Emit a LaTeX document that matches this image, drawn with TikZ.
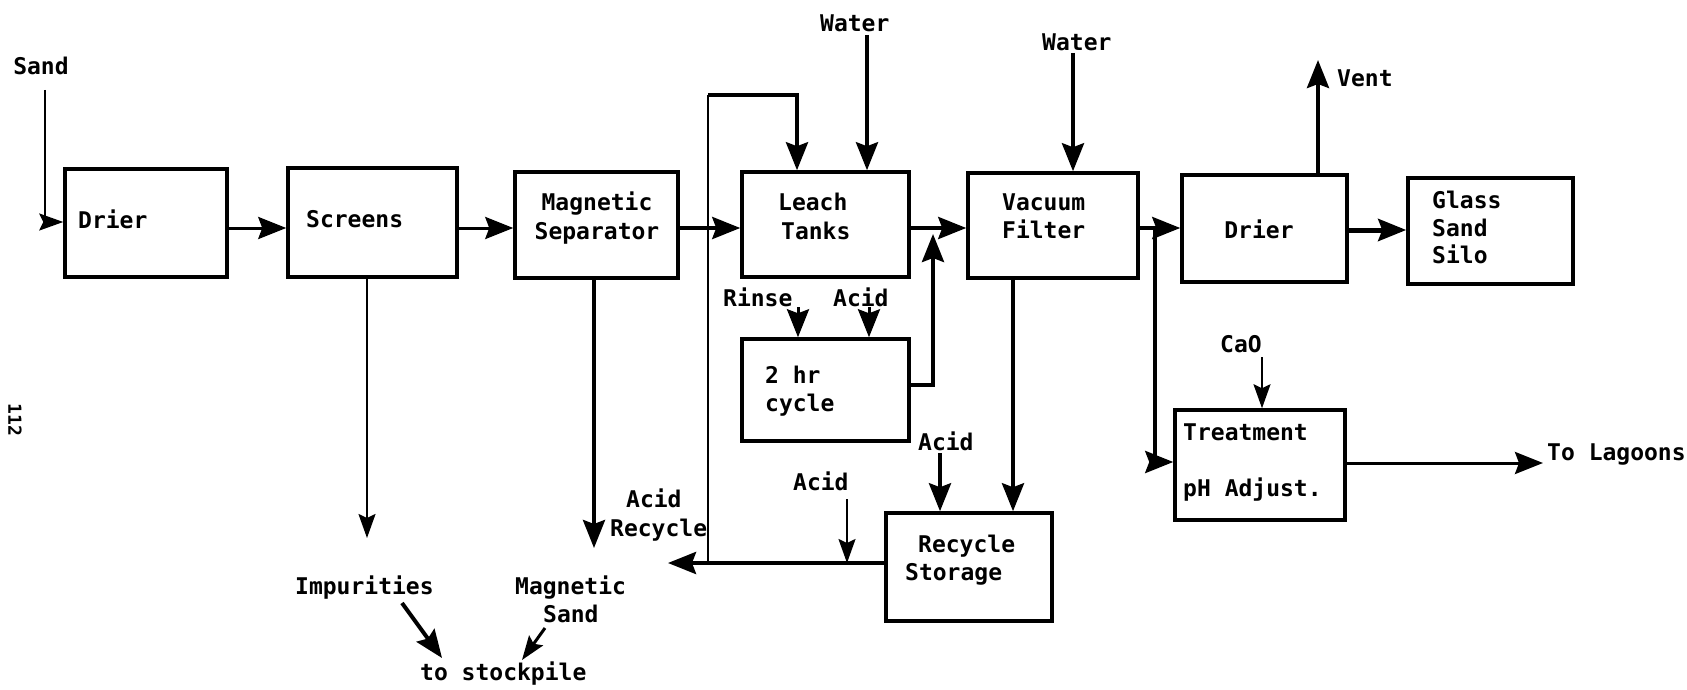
\documentclass[tikz,border=0pt]{standalone}
\usepackage{fontspec}
\newfontfamily\tw{DejaVu Sans Mono}
\usetikzlibrary{arrows.meta}
\begin{document}
\begin{tikzpicture}[x=1pt,y=-1pt,
  box/.style={draw, line width=3.5pt, inner sep=0pt},
  lbl/.style={font=\tw\bfseries\fontsize{23}{29}\selectfont, inner sep=0pt},
  tk/.style={line width=4pt},
  md/.style={line width=3pt},
  tn/.style={line width=2pt},
  tip/.style={-{Stealth[length=28pt 0 0,width=22pt 0,inset=4pt 0]}},
  stip/.style={-{Stealth[length=24pt 0 0,width=17pt 0,inset=4pt 0]}}]
\useasboundingbox (0,0) rectangle (1687,690);

% boxes
\node[box, minimum width=162pt, minimum height=108pt] (drier1) at (146,223) {};
\node[box, minimum width=169pt, minimum height=109pt] (screens) at (372.5,222.5) {};
\node[box, minimum width=163pt, minimum height=106pt] (magsep) at (596.5,225) {};
\node[box, minimum width=167pt, minimum height=105pt] (leach) at (825.5,224.5) {};
\node[box, minimum width=170pt, minimum height=105pt] (vacuum) at (1053,225.5) {};
\node[box, minimum width=165pt, minimum height=107pt] (drier2) at (1264.5,228.5) {};
\node[box, minimum width=165pt, minimum height=106pt] (silo) at (1490.5,231) {};
\node[box, minimum width=167pt, minimum height=102pt] (cycle) at (825.5,390) {};
\node[box, minimum width=166pt, minimum height=108pt] (storage) at (969,567) {};
\node[box, minimum width=170pt, minimum height=110pt] (treat) at (1260,465) {};

% texts
\node[lbl, anchor=base] (tsand) at (41,75) {Sand};
\node[lbl, anchor=base west] (tdrier1) at (78,228) {Drier};
\node[lbl, anchor=base west] (tscreens) at (306,227) {Screens};
\node[lbl, anchor=base] (tmag1) at (597,210) {Magnetic};
\node[lbl, anchor=base] (tmag2) at (597,239) {Separator};
\node[lbl, anchor=base west] (tleach1) at (778,211) {Leach};
\node[lbl, anchor=base west] (tleach2) at (781,239) {Tanks};
\node[lbl, anchor=base west] (twater1) at (820,32) {Water};
\node[lbl, anchor=base west] (trinse) at (723,306) {Rinse};
\node[lbl, anchor=base west] (tacid1) at (833,306) {Acid};
\node[lbl, anchor=base west] (tcyc1) at (765,383) {2 hr};
\node[lbl, anchor=base west] (tcyc2) at (765,411) {cycle};
\node[lbl, anchor=base west] (tvac1) at (1002,210) {Vacuum};
\node[lbl, anchor=base west] (tvac2) at (1002,238) {Filter};
\node[lbl, anchor=base west] (twater2) at (1042,51) {Water};
\node[lbl, anchor=base] (tdrier2) at (1259,238) {Drier};
\node[lbl, anchor=base west] (tvent) at (1337,87) {Vent};
\node[lbl, anchor=base west] (tsilo1) at (1432,208) {Glass};
\node[lbl, anchor=base west] (tsilo2) at (1432,236) {Sand};
\node[lbl, anchor=base west] (tsilo3) at (1432,263) {Silo};
\node[lbl, anchor=base west] (ttreat1) at (1183,440) {Treatment};
\node[lbl, anchor=base west] (ttreat2) at (1183,496) {pH Adjust.};
\node[lbl, anchor=base west] (tcao) at (1220,352) {CaO};
\node[lbl, anchor=base west] (tlag) at (1547,460) {To Lagoons};
\node[lbl, anchor=base west] (tstor1) at (918,552) {Recycle};
\node[lbl, anchor=base west] (tstor2) at (905,580) {Storage};
\node[lbl, anchor=base west] (tacid2) at (918,450) {Acid};
\node[lbl, anchor=base west] (tacid3) at (793,490) {Acid};
\node[lbl, anchor=base west] (trec1) at (626,507) {Acid};
\node[lbl, anchor=base west] (trec2) at (610,536) {Recycle};
\node[lbl, anchor=base west] (timp) at (295,594) {Impurities};
\node[lbl, anchor=base west] (tms1) at (515,594) {Magnetic};
\node[lbl, anchor=base west] (tms2) at (543,622) {Sand};
\node[lbl, anchor=base west] (tstock) at (420,680) {to stockpile};
\node[lbl, font=\tw\bfseries\fontsize{18}{22}\selectfont, rotate=-90] (tpage) at (15,420) {112};

% coordinates
\coordinate (fl) at (0,228);
\coordinate (sandtop) at (45,90);
\coordinate (sandin) at (0,222);
\coordinate (rj) at (708,563);
\coordinate (rtip) at (668,563);
\coordinate (rtop) at (708,95);
\coordinate (rright) at (797,95);
\coordinate (a3top) at (847,499);
\coordinate (w1) at (867,35);
\coordinate (rn) at (798,307);
\coordinate (ac1) at (869,307);
\coordinate (cj) at (933,385);
\coordinate (cjt) at (933,234);
\coordinate (w2) at (1073,53);
\coordinate (vs) at (1013,0);
\coordinate (ac2) at (940,453);
\coordinate (vj) at (1155,229);
\coordinate (tj) at (1155,462);
\coordinate (vt) at (1318,60);
\coordinate (sl) at (0,230);
\coordinate (cao) at (1262,357);
\coordinate (lg) at (1543,463);
\coordinate (sd) at (367,538);
\coordinate (msd) at (594,548);
\coordinate (imps) at (402,603);
\coordinate (impe) at (442,658);
\coordinate (mss) at (545,628);
\coordinate (mse) at (522,660);

% connectors
\draw[tn,stip] (sandtop) |- (drier1.west |- sandin);
\draw[md,tip] (drier1.east |- fl) -- (screens.west |- fl);
\draw[md,tip] (screens.east |- fl) -- (magsep.west |- fl);
\draw[tk,tip] (magsep.east |- fl) -- (leach.west |- fl);
\draw[tk,tip] (leach.east |- fl) -- (vacuum.west |- fl);
\draw[tk,tip] (vacuum.east |- fl) -- (drier2.west |- fl);
\draw[line width=5pt,tip] (drier2.east |- sl) -- (silo.west |- sl);

\draw[tk,tip] (w1) -- (w1 |- leach.north);
\draw[tk,tip] (storage.west |- rj) -- (rtip);
\draw[tn] (rj) -- (rtop);
\draw[tk,tip] (rtop) -- (rright) -- (rright |- leach.north);
\draw[tn,stip] (a3top) -- (a3top |- rj);

\draw[md,tip] (rn) -- (rn |- cycle.north);
\draw[md,tip] (ac1) -- (ac1 |- cycle.north);
\draw[tk,tip] (cycle.east |- cj) -- (cj) -- (cjt);

\draw[tk,tip] (w2) -- (w2 |- vacuum.north);
\draw[tk,tip] (vacuum.south -| vs) -- (storage.north -| vs);
\draw[tk,tip] (ac2) -- (ac2 |- storage.north);

\draw[tk,tip] (vj) -- (tj) -- (treat.west |- tj);
\draw[tk,tip] (drier2.north -| vt) -- (vt);
\draw[tn,stip] (cao) -- (cao |- treat.north);
\draw[md,tip] (treat.east |- lg) -- (lg);

\draw[tn,stip] (screens.south -| sd) -- (sd);
\draw[tk,tip] (magsep.south -| msd) -- (msd);
\draw[tk,tip] (imps) -- (impe);
\draw[md,stip] (mss) -- (mse);
\end{tikzpicture}
\end{document}
